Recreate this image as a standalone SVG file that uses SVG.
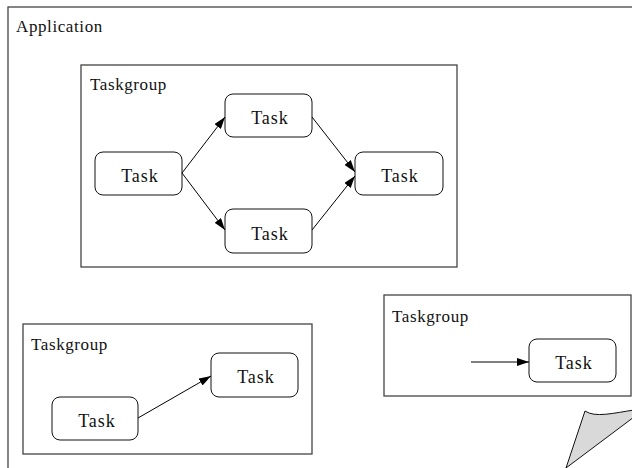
<svg xmlns="http://www.w3.org/2000/svg" width="632" height="468" viewBox="0 0 632 468">
  <defs>
    <marker id="arrow" viewBox="0 0 12 8" refX="12" refY="4" markerWidth="12" markerHeight="8" markerUnits="userSpaceOnUse" orient="auto">
      <path d="M0,0 L12,4 L0,8 Z" fill="#000"/>
    </marker>
  </defs>
  <style>
    .frame { fill: #fff; stroke: #444; stroke-width: 1.3; }
    .task { fill: #fff; stroke: #111; stroke-width: 1; }
    text { font-family: 'Liberation Serif', 'DejaVu Serif', serif; fill: #111; }
    .label { font-size: 17px; letter-spacing: 0.6px; }
    .tasktext { font-size: 18px; letter-spacing: 1px; text-anchor: middle; }
    .edge { fill: none; stroke: #000; stroke-width: 1; marker-end: url(#arrow); }
  </style>
  <rect width="632" height="468" fill="#fff"/>

  <g id="application">
    <rect class="frame" x="8" y="7" width="700" height="520"/>
    <text class="label" x="16" y="32">Application</text>
  </g>

  <g id="taskgroup-main">
    <rect class="frame" x="81" y="65" width="376" height="202"/>
    <text class="label" x="90" y="90">Taskgroup</text>
  </g>
  <g id="task-start">
    <rect class="task" x="95" y="152" width="87" height="43" rx="8"/>
    <text class="tasktext" x="140" y="182">Task</text>
  </g>
  <g id="task-upper">
    <rect class="task" x="225" y="94" width="87" height="43" rx="8"/>
    <text class="tasktext" x="270" y="124">Task</text>
  </g>
  <g id="task-lower">
    <rect class="task" x="225" y="209" width="87" height="44" rx="8"/>
    <text class="tasktext" x="270" y="240">Task</text>
  </g>
  <g id="task-join">
    <rect class="task" x="355" y="152" width="88" height="43" rx="8"/>
    <text class="tasktext" x="400" y="182">Task</text>
  </g>

  <g id="taskgroup-pair">
    <rect class="frame" x="23" y="324" width="289" height="130"/>
    <text class="label" x="31" y="350">Taskgroup</text>
  </g>
  <g id="task-pair-first">
    <rect class="task" x="52" y="397" width="86" height="43" rx="8"/>
    <text class="tasktext" x="97" y="427">Task</text>
  </g>
  <g id="task-pair-second">
    <rect class="task" x="211" y="353" width="87" height="44" rx="8"/>
    <text class="tasktext" x="256" y="383">Task</text>
  </g>

  <g id="taskgroup-single">
    <rect class="frame" x="384" y="295" width="247" height="101"/>
    <text class="label" x="392" y="322">Taskgroup</text>
  </g>
  <g id="task-single">
    <rect class="task" x="529" y="339" width="87" height="43" rx="8"/>
    <text class="tasktext" x="574" y="369">Task</text>
  </g>

  <g id="connectors">
    <line class="edge" x1="182" y1="173" x2="225" y2="117"/>
    <line class="edge" x1="182" y1="173" x2="225" y2="230"/>
    <line class="edge" x1="312" y1="117" x2="355" y2="172"/>
    <line class="edge" x1="312" y1="230" x2="355" y2="176"/>
    <line class="edge" x1="138" y1="418" x2="211" y2="376"/>
    <line class="edge" x1="471" y1="362" x2="529" y2="362"/>
  </g>

  <!-- folded corner at the lower right -->
  <path d="M585,411 C595,418 614,413 634,410 L634,417 L566,468 Z" fill="#d9d9d9" stroke="#111" stroke-width="1"/>
</svg>
